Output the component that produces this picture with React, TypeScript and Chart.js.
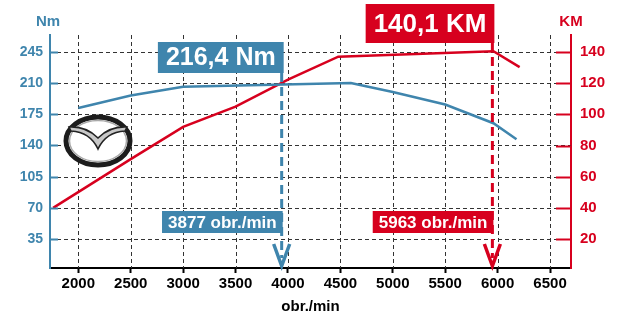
import React, { useEffect, useRef } from "react";
import { Chart, registerables } from "chart.js";
Chart.register(...registerables);

// ---- data ----
const torqueRpm = [2000, 2500, 3000, 4600, 5000, 5500, 5960, 6180];
const torqueNm = [182, 196, 206, 210, 200, 186, 165, 147];
const powerRpm = [1760, 2500, 3000, 3500, 4000, 4480, 5960, 6210];
const powerKM = [40, 71.3, 92, 104.9, 122.3, 137, 140.5, 130.3];
const xTicks = [2000, 2500, 3000, 3500, 4000, 4500, 5000, 5500, 6000, 6500];
const leftTicks = [35, 70, 105, 140, 175, 210, 245];
const rightTicks = [20, 40, 60, 80, 100, 120, 140];
const xTitle = "obr./min";
const leftTitle = "Nm";
const rightTitle = "KM";
const peakLabels = ["216,4 Nm", "140,1 KM"];
const peakRpmLabels = ["3877 obr./min", "5963 obr./min"];
const markerRpm = [3940, 5950];

const BLUE = "#3f85ad";
const RED = "#d7001e";
const FONT = "'Liberation Sans', Arial, sans-serif";

function drawLogo(ctx: CanvasRenderingContext2D, cx: number, cy: number) {
  ctx.save();
  ctx.beginPath();
  ctx.ellipse(cx, cy, 32, 24, 0, 0, Math.PI * 2);
  ctx.fillStyle = "#ffffff";
  ctx.fill();
  ctx.lineWidth = 5;
  ctx.strokeStyle = "#1c1c1c";
  ctx.stroke();
  ctx.beginPath();
  ctx.ellipse(cx, cy, 28.5, 20.5, 0, 0, Math.PI * 2);
  ctx.lineWidth = 1.5;
  ctx.strokeStyle = "#a8a8a8";
  ctx.stroke();
  // wings
  ctx.beginPath();
  ctx.moveTo(cx - 29, cy - 14);
  ctx.quadraticCurveTo(cx - 12, cy - 15, cx, cy - 3);
  ctx.quadraticCurveTo(cx + 12, cy - 15, cx + 29, cy - 14);
  ctx.lineTo(cx + 27, cy - 10);
  ctx.quadraticCurveTo(cx + 8, cy - 9, cx, cy + 8);
  ctx.quadraticCurveTo(cx - 8, cy - 9, cx - 27, cy - 10);
  ctx.closePath();
  ctx.fillStyle = "#c8c8c8";
  ctx.fill();
  ctx.lineWidth = 1.6;
  ctx.strokeStyle = "#222";
  ctx.stroke();
  ctx.restore();
}

function box(ctx: CanvasRenderingContext2D, right: number, top: number, h: number, text: string, font: string, color: string, pad: number) {
  ctx.font = font;
  const w = ctx.measureText(text).width + pad * 2;
  ctx.fillStyle = color;
  ctx.fillRect(right - w, top, w, h);
  ctx.fillStyle = "#ffffff";
  ctx.textAlign = "center";
  ctx.textBaseline = "middle";
  ctx.fillText(text, right - w / 2, top + h / 2 + 1);
}

const gridPlugin = {
  id: "dashGrid",
  beforeDatasetsDraw(chart: any) {
    const ctx: CanvasRenderingContext2D = chart.ctx;
    const { x, y } = chart.scales;
    const a = chart.chartArea;
    ctx.save();
    ctx.strokeStyle = "#333";
    ctx.lineWidth = 1;
    ctx.setLineDash([4, 3]);
    x.ticks.forEach((t: any) => {
      const px = Math.round(x.getPixelForValue(t.value)) + 0.5;
      ctx.beginPath(); ctx.moveTo(px, a.top); ctx.lineTo(px, a.bottom); ctx.stroke();
    });
    y.ticks.forEach((t: any) => {
      const py = Math.round(y.getPixelForValue(t.value)) + 0.5;
      ctx.beginPath(); ctx.moveTo(a.left, py); ctx.lineTo(a.right, py); ctx.stroke();
    });
    ctx.restore();
  },
};

const overlay = {
  id: "overlay",
  afterDatasetsDraw(chart: any) {
    const ctx: CanvasRenderingContext2D = chart.ctx;
    const { x, y, y2 } = chart.scales;
    const a = chart.chartArea;
    ctx.save();
    // inner tick marks
    ctx.lineWidth = 2;
    ctx.strokeStyle = BLUE;
    y.ticks.forEach((t: any) => {
      const py = Math.round(y.getPixelForValue(t.value)) + 0.5;
      ctx.beginPath(); ctx.moveTo(a.left, py); ctx.lineTo(a.left + 8, py); ctx.stroke();
    });
    ctx.strokeStyle = RED;
    y2.ticks.forEach((t: any) => {
      const py = Math.round(y2.getPixelForValue(t.value)) + 0.5;
      ctx.beginPath(); ctx.moveTo(a.right - 15, py); ctx.lineTo(a.right, py); ctx.stroke();
    });

    drawLogo(ctx, a.left + 48, a.top + 106);

    const colors = [BLUE, RED];
    const bigTops = [42, 4];
    const bigH = [31, 39];
    const bigFonts = [`bold 25px ${FONT}`, `bold 26px ${FONT}`];
    markerRpm.forEach((rpm, i) => {
      const px = x.getPixelForValue(rpm);
      const c = colors[i];
      ctx.strokeStyle = c;
      ctx.lineWidth = 3;
      ctx.setLineDash([9, 5]);
      ctx.beginPath();
      ctx.moveTo(px, bigTops[i] + bigH[i]);
      ctx.lineTo(px, a.bottom - 10);
      ctx.stroke();
      ctx.setLineDash([]);
      ctx.lineWidth = 3.5;
      ctx.lineJoin = "miter";
      ctx.beginPath();
      ctx.moveTo(px - 8, a.bottom - 24);
      ctx.lineTo(px, a.bottom - 2);
      ctx.lineTo(px + 8, a.bottom - 24);
      ctx.stroke();
      box(ctx, px + 2, bigTops[i], bigH[i], peakLabels[i], bigFonts[i], c, 8);
      box(ctx, px + 1, a.bottom - 57, 22, peakRpmLabels[i], `bold 17px ${FONT}`, c, 6);
    });

    ctx.font = `bold 15px ${FONT}`;
    ctx.textAlign = "center";
    ctx.textBaseline = "middle";
    ctx.fillStyle = BLUE;
    ctx.fillText(leftTitle, a.left - 2, 22);
    ctx.fillStyle = RED;
    ctx.fillText(rightTitle, a.right, 22);
    ctx.restore();
  },
};

const setTicks = (vals: number[]) => (s: any) => {
  s.ticks = vals.map((v) => ({ value: v }));
};

export default function App() {
  const ref = useRef<HTMLCanvasElement>(null);
  useEffect(() => {
    document.body.style.margin = "0";
    const chart = new Chart(ref.current!, {
      type: "line",
      data: {
        datasets: [
          {
            label: "Nm",
            data: torqueRpm.map((r, i) => ({ x: r, y: torqueNm[i] })),
            borderColor: BLUE,
            borderWidth: 2.5,
            pointRadius: 0,
            yAxisID: "y",
          },
          {
            label: "KM",
            data: powerRpm.map((r, i) => ({ x: r, y: powerKM[i] })),
            borderColor: RED,
            borderWidth: 2.5,
            pointRadius: 0,
            yAxisID: "y2",
          },
        ],
      },
      options: {
        animation: false,
        responsive: false,
        layout: { padding: { top: 35, left: 0, right: 0, bottom: 0 } },
        plugins: { legend: { display: false }, tooltip: { enabled: false } },
        scales: {
          x: {
            type: "linear",
            min: 1730,
            max: 6700,
            afterBuildTicks: setTicks(xTicks),
            afterFit: (s: any) => { s.height = 53; },
            ticks: { color: "#000", font: { family: FONT, size: 15, weight: "bold" }, padding: 2, maxRotation: 0, autoSkip: false, callback: (v: any) => String(v) },
            grid: { drawOnChartArea: false, tickLength: 5, tickColor: "#000", tickWidth: 2 },
            border: { color: "#000", width: 2 },
            title: { display: true, text: xTitle, color: "#000", font: { family: FONT, size: 15, weight: "bold" }, padding: { top: 0, bottom: 5 } },
          },
          y: {
            position: "left",
            min: 2.5,
            max: 264,
            afterBuildTicks: setTicks(leftTicks),
            afterFit: (s: any) => { s.width = 50; },
            ticks: { color: BLUE, autoSkip: false, font: { family: FONT, size: 14, weight: "bold" }, padding: 7 },
            grid: { drawOnChartArea: false, drawTicks: false },
            border: { color: BLUE, width: 2 },
          },
          y2: {
            position: "right",
            min: 1.43,
            max: 150.9,
            afterBuildTicks: setTicks(rightTicks),
            afterFit: (s: any) => { s.width = 54; },
            ticks: { color: RED, autoSkip: false, font: { family: FONT, size: 15, weight: "bold" }, padding: 9 },
            grid: { drawOnChartArea: false, drawTicks: false },
            border: { color: RED, width: 2 },
          },
        },
      },
      plugins: [gridPlugin, overlay],
    } as any);
    return () => chart.destroy();
  }, []);
  return (
    <div style={{ width: 625, height: 321, background: "#fff" }}>
      <canvas ref={ref} width={625} height={321} />
    </div>
  );
}
